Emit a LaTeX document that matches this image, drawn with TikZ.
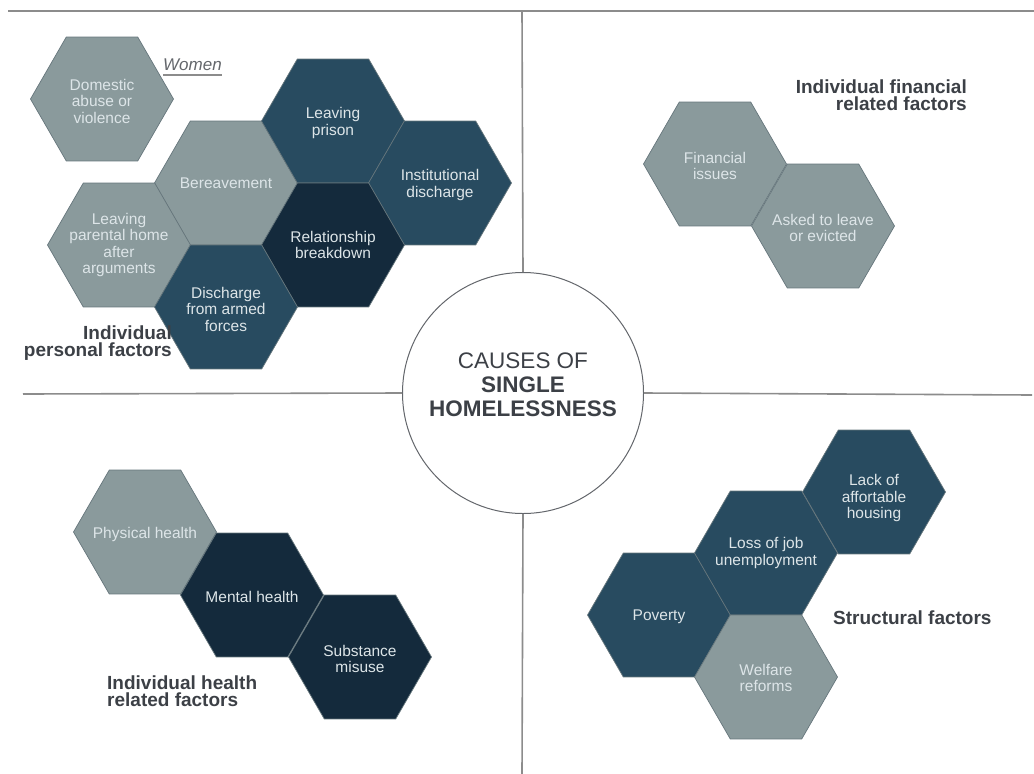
\documentclass[tikz,border=0pt]{standalone}
\usepackage{fontspec}
\setmainfont{Liberation Sans}
\usetikzlibrary{shapes.geometric}
\definecolor{hexgrey}{HTML}{8A9A9C}
\definecolor{hexteal}{HTML}{284B60}
\definecolor{hexnavy}{HTML}{142A3C}
\definecolor{hexline}{HTML}{66767C}
\definecolor{hextext}{HTML}{DDE5E8}
\definecolor{labelgrey}{HTML}{3C4046}
\definecolor{rulegrey}{HTML}{8C8C8C}

\begin{document}
\begin{tikzpicture}[x=1pt,y=-1pt,
  hex/.style={regular polygon, regular polygon sides=6, minimum size=143pt,
    inner sep=0pt, draw=hexline, line width=0.7pt},
  light/.style={hex, fill=hexgrey},
  teal/.style={hex, fill=hexteal},
  navy/.style={hex, fill=hexnavy},
  hextxt/.style={text=hextext, align=center, inner sep=0pt,
    font=\fontsize{15.5}{16.5}\selectfont},
  grouplabel/.style={text=labelgrey, font=\fontsize{19}{17}\selectfont\bfseries, inner sep=0pt},
  divider/.style={draw=rulegrey, line width=1.6pt}]
  \useasboundingbox (0,0) rectangle (1034,774);

  % centre circle
  \node[circle, draw=labelgrey!80, line width=1pt, minimum size=241pt, inner sep=0pt] (centre) at (523,393) {};
  \node[text=labelgrey, align=center, inner sep=0pt, font=\fontsize{22.5}{24}\selectfont] (title) at (523,385)
    {CAUSES OF\\\textbf{SINGLE}\\\textbf{HOMELESSNESS}};

  % dividing lines
  \coordinate (topleft) at (8,11);
  \coordinate (topright) at (1034,11);
  \coordinate (topmid) at (522,11);
  \coordinate (midleft) at (23,394);
  \coordinate (midright) at (1032,395);
  \coordinate (botmid) at (522,774);
  \draw[divider] (topleft) -- (topright);
  \draw[divider] (topmid) -- (centre.north);
  \draw[divider] (midleft) -- (centre.west);
  \draw[divider] (centre.east) -- (midright);
  \draw[divider] (centre.south) -- (botmid);

  % individual personal factors
  \node[light] (domestic) at (102,99) {};
  \node[light] (bereave) at (226,183) {};
  \node[teal] (prison) at (333,121) {};
  \node[teal] (institution) at (440,183) {};
  \node[navy] (relation) at (333,245) {};
  \node[light] (parental) at (119,245) {};
  \node[teal] (armed) at (226,307) {};
  \node[hextxt] (domestic-t) at ([yshift=-2pt]domestic) {Domestic\\abuse or\\violence};
  \node[hextxt] (bereave-t) at (bereave) {Bereavement};
  \node[hextxt] (prison-t) at ([yshift=-2pt]prison) {Leaving\\prison};
  \node[hextxt] (institution-t) at ([yshift=-2pt]institution) {Institutional\\discharge};
  \node[hextxt] (relation-t) at (relation) {Relationship\\breakdown};
  \node[hextxt] (parental-t) at (parental) {Leaving\\parental home\\after\\arguments};
  \node[hextxt] (armed-t) at ([yshift=-2pt]armed) {Discharge\\from armed\\forces};
  \node[text=labelgrey!80, inner sep=0pt, anchor=base west, font=\fontsize{17}{17}\selectfont\itshape] (women) at (163,70) {Women};
  \draw[rulegrey, line width=1.5pt] ([yshift=-5pt]women.base west) -- ([yshift=-5pt]women.base east);
  \node[grouplabel, align=right, anchor=base east] (personal) at (172,356) {Individual\\personal factors};

  % individual financial related factors
  \node[light] (financial) at (715,164) {};
  \node[light] (evicted) at (823,226) {};
  \node[hextxt] (financial-t) at ([yshift=-2pt]financial) {Financial\\issues};
  \node[hextxt] (evicted-t) at ([yshift=-2pt]evicted) {Asked to leave\\or evicted};
  \node[grouplabel, align=right, anchor=base east] (financelbl) at (967,110) {Individual financial\\related factors};

  % individual health related factors
  \node[light] (physical) at (145,532) {};
  \node[navy] (mental) at (252,595) {};
  \node[navy] (substance) at (360,657) {};
  \node[hextxt] (physical-t) at ([yshift=-2pt]physical) {Physical health};
  \node[hextxt] (mental-t) at ([yshift=-2pt]mental) {Mental health};
  \node[hextxt] (substance-t) at ([yshift=-2pt]substance) {Substance\\misuse};
  \node[grouplabel, align=left, anchor=base west] (healthlbl) at (107,706) {Individual health\\related factors};

  % structural factors
  \node[teal] (poverty) at (659,615) {};
  \node[teal] (job) at (766,553) {};
  \node[teal] (housing) at (874,492) {};
  \node[light] (welfare) at (766,677) {};
  \node[hextxt] (poverty-t) at ([yshift=-2pt]poverty) {Poverty};
  \node[hextxt] (job-t) at (job) {Loss of job\\unemployment};
  \node[hextxt] (housing-t) at ([yshift=-6pt]housing) {Lack of\\affortable\\housing};
  \node[hextxt] (welfare-t) at ([yshift=-1pt]welfare) {Welfare\\reforms};
  \node[grouplabel, anchor=base west] (structlbl) at (833,624) {Structural factors};
\end{tikzpicture}
\end{document}
